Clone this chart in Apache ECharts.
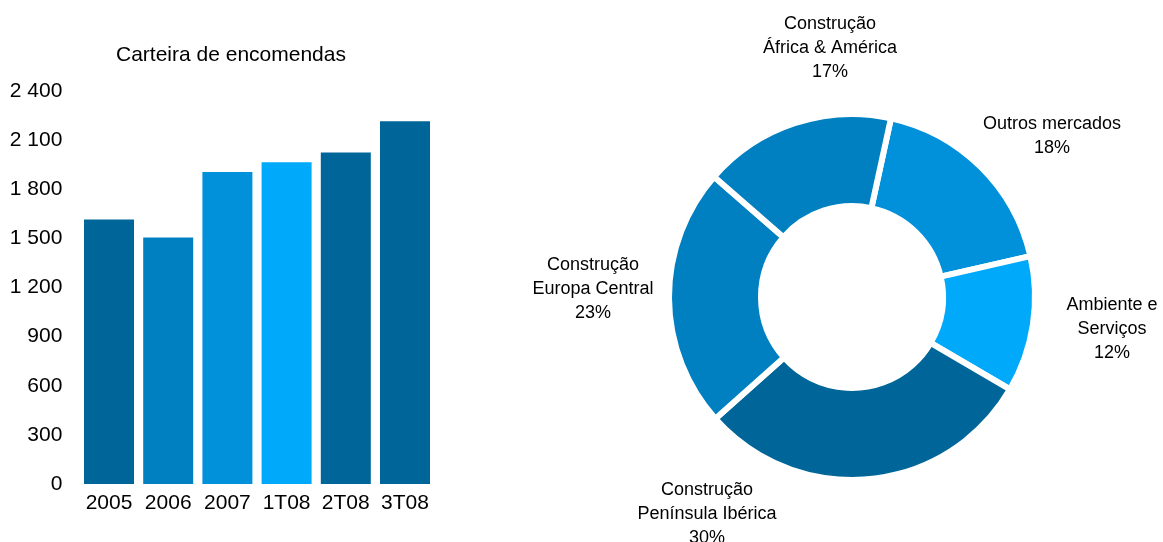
<!DOCTYPE html>
<html>
<head>
<meta charset="utf-8">
<script src="https://cdn.jsdelivr.net/npm/echarts@6/dist/echarts.min.js"></script>
<style>
html,body{margin:0;padding:0;background:#fff;}
#chart{width:1163px;height:542px;}
</style>
</head>
<body>
<div id="chart"></div>
<script>
// ---- data ----
const barTitle = 'Carteira de encomendas';
const barCategories = ['2005', '2006', '2007', '1T08', '2T08', '3T08'];
const barValues = [1615, 1505, 1905, 1965, 2025, 2215];
const yTickValues = [0, 300, 600, 900, 1200, 1500, 1800, 2100, 2400];
const yTickLabels = ['0', '300', '600', '900', '1 200', '1 500', '1 800', '2 100', '2 400'];

const pieNames = ['Outros mercados', 'Ambiente e\nServiços', 'Construção\nPenínsula Ibérica', 'Construção\nEuropa Central', 'Construção\nÁfrica & América'];
const pieValues = [18, 12, 30, 23, 17];

// ---- styles ----
const barColors = ['#006699', '#0080c0', '#0091da', '#00a9fa', '#006699', '#006699'];
const pieColors = ['#0091da', '#00a9fa', '#006699', '#0080c0', '#0080c0'];
const pieLabelPos = [[1052, 136], [1112, 329], [707, 514], [593, 289], [830, 48]];
const FONT = '"Liberation Sans", Arial, sans-serif';

const chart = echarts.init(document.getElementById('chart'), null, {renderer: 'canvas'});
chart.setOption({
  animation: false,
  backgroundColor: '#ffffff',
  graphic: [{
    type: 'text', x: 231, y: 55,
    style: {text: barTitle, fill: '#000', font: '21px ' + FONT, textAlign: 'center', textVerticalAlign: 'middle'}
  }],
  grid: {left: 79.4, right: 728.4, top: 91, bottom: 58, containLabel: false},
  xAxis: {
    type: 'category', data: barCategories,
    axisLine: {show: false}, axisTick: {show: false},
    axisLabel: {color: '#000', fontSize: 21, fontFamily: FONT, margin: 9, interval: 0}
  },
  yAxis: {
    type: 'value', min: 0, max: 2400, interval: 300,
    axisLine: {show: false}, axisTick: {show: false}, splitLine: {show: false},
    axisLabel: {
      color: '#000', fontSize: 21, fontFamily: FONT, margin: 17,
      formatter: v => yTickLabels[yTickValues.indexOf(v)]
    }
  },
  series: [{
    type: 'bar',
    barWidth: 50,
    data: barValues.map((v, i) => ({value: v, itemStyle: {color: barColors[i]}}))
  }, {
    type: 'pie',
    center: [852, 297],
    radius: [91, 183],
    startAngle: 77.7,
    clockwise: true,
    itemStyle: {borderColor: '#fff', borderWidth: 6},
    label: {
      show: true, position: 'outside', color: '#000', fontSize: 18, fontFamily: FONT,
      lineHeight: 24, align: 'center', overflow: 'none', width: 200,
      formatter: p => p.name + '\n' + p.value + '%'
    },
    labelLine: {show: false},
    labelLayout: p => ({x: pieLabelPos[p.dataIndex][0], y: pieLabelPos[p.dataIndex][1], align: 'center', verticalAlign: 'middle'}),
    emphasis: {disabled: true},
    data: pieValues.map((v, i) => ({value: v, name: pieNames[i], itemStyle: {color: pieColors[i]}}))
  }]
});
</script>
</body>
</html>
